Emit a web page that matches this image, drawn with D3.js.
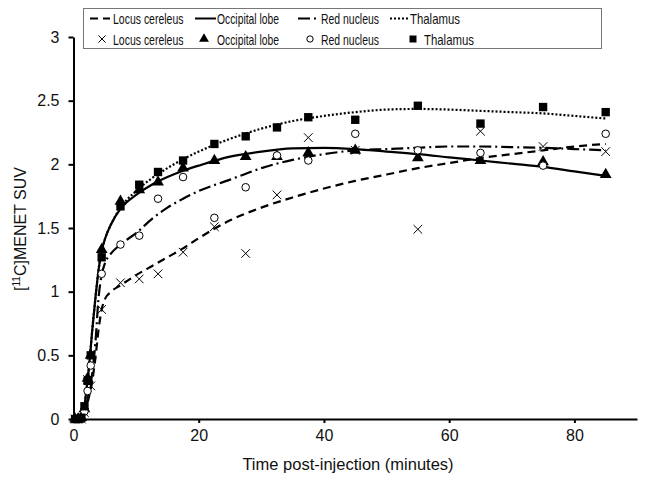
<!DOCTYPE html>
<html><head><meta charset="utf-8">
<script src="https://cdn.jsdelivr.net/npm/d3@7"></script>
<style>
body{margin:0;background:#fff;}
svg{display:block;font-family:"Liberation Sans",Arial,sans-serif;}
</style></head>
<body><svg id="c" width="645" height="482"></svg>
<script>
// ---- data ----
const seriesNames = ["Locus cereleus","Occipital lobe","Red nucleus","Thalamus"];
const sampleTimes = [0.25,0.75,1.25,1.75,2.25,2.75,4.5,7.5,10.5,13.5,17.5,22.5,27.5,32.5,37.5,45,55,65,75,85];
const locusObs     = [0,0,0,0.05,0.31,0.26,0.86,1.07,1.10,1.14,1.31,1.51,1.30,1.76,2.21,2.11,1.49,2.26,2.14,2.10];
const occipitalObs = [0,0,0.01,0.08,0.32,0.50,1.33,1.71,1.80,1.86,1.97,2.03,2.06,2.06,2.09,2.11,2.05,2.03,2.02,1.92];
const redObs       = [0,0,0,0.06,0.22,0.42,1.14,1.37,1.44,1.73,1.90,1.58,1.82,2.07,2.03,2.24,2.11,2.09,1.99,2.24];
const thalamusObs  = [0,0,0.01,0.10,0.30,0.50,1.27,1.67,1.84,1.94,2.03,2.16,2.22,2.29,2.37,2.35,2.46,2.32,2.45,2.41];

const fitTimes = [0,1,1.5,2,2.5,3,3.5,4,4.5,5,6,7.5,10,12.5,15,17.5,20,25,30,35,40,45,50,55,60,65,70,75,80,85];
const locusFit     = [0,0,0.02,0.08,0.18,0.30,0.48,0.70,0.86,0.94,1.00,1.05,1.13,1.20,1.27,1.34,1.42,1.56,1.66,1.74,1.81,1.87,1.92,1.97,2.01,2.05,2.08,2.11,2.14,2.16];
const occipitalFit = [0,0,0.03,0.20,0.42,0.70,0.95,1.17,1.32,1.41,1.53,1.65,1.76,1.84,1.90,1.95,1.99,2.06,2.10,2.125,2.13,2.12,2.10,2.08,2.055,2.03,2.005,1.98,1.945,1.91];
const redFit       = [0,0,0.02,0.10,0.22,0.36,0.60,0.95,1.13,1.22,1.30,1.37,1.46,1.57,1.66,1.73,1.79,1.88,1.97,2.035,2.08,2.11,2.12,2.13,2.14,2.14,2.135,2.13,2.12,2.11];
const thalamusFit  = [0,0,0.03,0.20,0.42,0.70,0.95,1.17,1.32,1.41,1.53,1.66,1.79,1.89,1.97,2.04,2.10,2.20,2.28,2.34,2.38,2.41,2.43,2.435,2.43,2.42,2.41,2.40,2.38,2.36];

const xTicks = [0,20,40,60,80];
const yTicks = [0,0.5,1,1.5,2,2.5,3];

// ---- chart ----
const svg = d3.select("#c");
const x = d3.scaleLinear().domain([0,90]).range([73.5,637]);
const y = d3.scaleLinear().domain([0,3]).range([419,37]);

const fits = [locusFit, occipitalFit, redFit, thalamusFit];
const obs = [locusObs, occipitalObs, redObs, thalamusObs];
const dashes = ["8,5", null, "12,4,2,4", "2,2"];
const symbols = [d3.symbolTimes, d3.symbolTriangle, d3.symbolCircle, d3.symbolSquare];
const symSizes = [50, 60, 45, 70];
const symFill = ["none","#000","#fff","#000"];
const symStroke = ["#000","none","#000","none"];

// axes
const yAxis = svg.append("g").attr("transform",`translate(${x(0)},0)`)
  .call(d3.axisLeft(y).tickValues(yTicks).tickSize(5).tickPadding(9).tickSizeOuter(0).tickFormat(d3.format("")));
const xAxis = svg.append("g").attr("transform",`translate(0,${y(0)})`)
  .call(d3.axisBottom(x).tickValues(xTicks).tickSize(4).tickPadding(7).tickSizeOuter(0));
[yAxis,xAxis].forEach(a=>{
  a.select(".domain").attr("stroke","#000").attr("stroke-width",2);
  a.selectAll(".tick line").attr("stroke","#000").attr("stroke-width",2);
  a.selectAll(".tick text").attr("font-size",16).attr("fill","#111").attr("font-family","'Liberation Sans',Arial,sans-serif");
});

// fitted curves
const line = d3.line().x((d,i)=>x(fitTimes[i])).y(d=>y(d)).curve(d3.curveMonotoneX);
fits.forEach((f,k)=>{
  svg.append("path").datum(f).attr("d",line).attr("fill","none")
    .attr("stroke","#000").attr("stroke-width",2.2)
    .attr("stroke-dasharray",dashes[k]);
});

// observed markers
obs.forEach((o,k)=>{
  svg.append("g").selectAll("path").data(o).join("path")
    .attr("transform",(d,i)=>`translate(${x(sampleTimes[i])},${y(d)})`)
    .attr("d",d3.symbol().type(symbols[k]).size(symSizes[k]))
    .attr("fill",symFill[k]).attr("stroke",symStroke[k]).attr("stroke-width",1);
});

// axis titles
svg.append("text").attr("x",348).attr("y",470).attr("text-anchor","middle")
  .attr("font-size",16.5).attr("fill","#111").text("Time post-injection (minutes)");
const yt = svg.append("text").attr("transform","translate(26,229) rotate(-90)")
  .attr("text-anchor","middle").attr("font-size",16).attr("fill","#111");
yt.append("tspan").text("[");
yt.append("tspan").attr("font-size",10).attr("dy",-6).text("11");
yt.append("tspan").attr("dy",6).text("C]MENET SUV");

// legend
const lg = svg.append("g");
lg.append("rect").attr("x",83.5).attr("y",8.5).attr("width",518).attr("height",40)
  .attr("fill","#fff").attr("stroke","#777").attr("stroke-width",1);
const lineCols = [[90,110,113],[195,216,217],[298,318,321],[390,408,410]];
const symCols = [[102,113],[204,217],[310,321],[413,424]];
const textLens = [70.5,62,58,50];
seriesNames.forEach((n,k)=>{
  const [a,b,tx] = lineCols[k];
  lg.append("line").attr("x1",a).attr("x2",b).attr("y1",18.5).attr("y2",18.5)
    .attr("stroke","#000").attr("stroke-width",2).attr("stroke-dasharray",dashes[k]);
  lg.append("text").attr("x",tx).attr("y",23.5).attr("font-size",14.5).attr("fill","#111")
    .attr("textLength",textLens[k]).attr("lengthAdjust","spacingAndGlyphs").text(n);
  const [sx,stx] = symCols[k];
  lg.append("path").attr("transform",`translate(${sx},39)`)
    .attr("d",d3.symbol().type(symbols[k]).size(symSizes[k]*0.7))
    .attr("fill",symFill[k]).attr("stroke",symStroke[k]);
  lg.append("text").attr("x",stx).attr("y",44.5).attr("font-size",14.5).attr("fill","#111")
    .attr("textLength",textLens[k]).attr("lengthAdjust","spacingAndGlyphs").text(n);
});
</script></body></html>
